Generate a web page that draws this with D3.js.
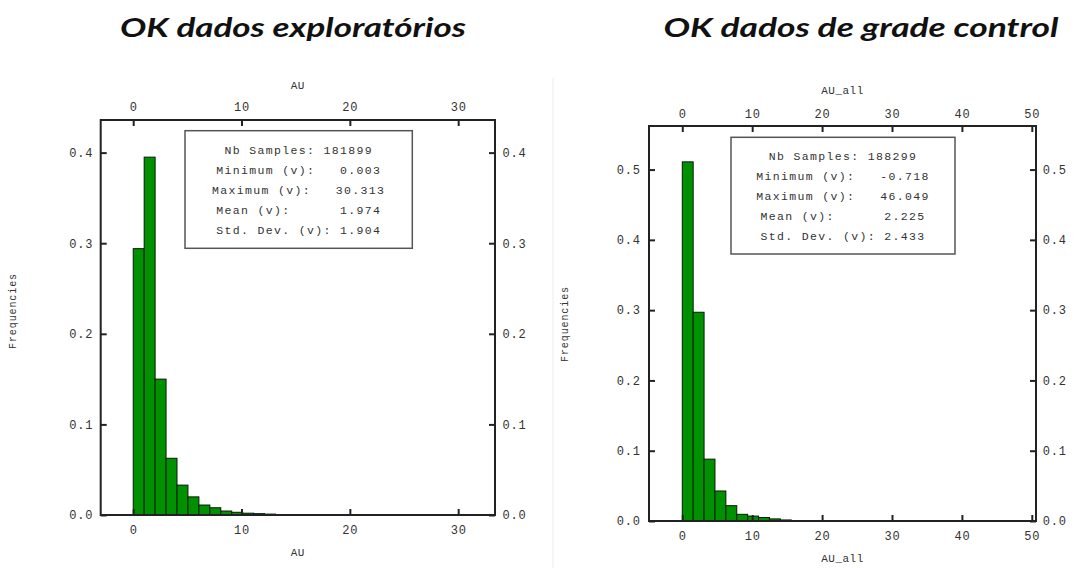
<!DOCTYPE html>
<html>
<head>
<meta charset="utf-8">
<script src="https://cdn.jsdelivr.net/npm/d3@7"></script>
<style>
  html, body { margin: 0; padding: 0; background: #fff; }
  svg { display: block; }
  .mono { font-family: "Liberation Mono", "DejaVu Sans Mono", monospace; }
</style>
</head>
<body>
<svg id="chart" width="1082" height="568"></svg>
<script>
// ---------------- DATA ----------------
const titles = ["OK dados exploratórios", "OK dados de grade control"];
const varNames = ["AU", "AU_all"];

// Left histogram (AU): 30 bins
const leftBinStart = 0.003;
const leftBinWidth = 1.0103;
const leftFreq = [0.294, 0.395, 0.150, 0.0626, 0.033, 0.020, 0.011, 0.008, 0.0044, 0.003,
                  0.002, 0.0015, 0.001, 0, 0, 0, 0, 0, 0, 0,
                  0, 0, 0, 0, 0, 0, 0, 0, 0, 0];

// Right histogram (AU_all): 30 bins
const rightBinStart = 0.0;
const rightBinWidth = 1.559;
const rightFreq = [0.511, 0.297, 0.088, 0.0427, 0.0218, 0.0095, 0.007, 0.005, 0.003, 0.0015,
                   0, 0, 0, 0, 0, 0, 0, 0, 0, 0,
                   0, 0, 0, 0, 0, 0, 0, 0, 0, 0];

const leftXTicks = [0, 10, 20, 30];
const rightXTicks = [0, 10, 20, 30, 40, 50];
const leftYTicks = [0, 0.1, 0.2, 0.3, 0.4];
const rightYTicks = [0, 0.1, 0.2, 0.3, 0.4, 0.5];

const leftStats = ["Nb Samples: 181899", "Minimum (v):   0.003", "Maximum (v):   30.313", "Mean (v):      1.974", "Std. Dev. (v): 1.904"];
const rightStats = ["Nb Samples: 188299", "Minimum (v):   -0.718", "Maximum (v):   46.049", "Mean (v):      2.225", "Std. Dev. (v): 2.433"];

// ---------------- DRAW ----------------
const svg = d3.select("#chart");

// faint separator
svg.append("line").attr("x1", 553).attr("x2", 553).attr("y1", 78).attr("y2", 568)
  .attr("stroke", "#ececec").attr("stroke-width", 1);

function drawPanel(cfg) {
  const g = svg.append("g");
  const x = d3.scaleLinear().domain(cfg.xDomain).range([cfg.l, cfg.r]);
  const y = d3.scaleLinear().domain(cfg.yDomain).range([cfg.b, cfg.t]);

  // title
  svg.append("text")
    .attr("x", cfg.titleX).attr("y", 37)
    .attr("text-anchor", "middle")
    .attr("font-family", "Lato, 'Open Sans', sans-serif")
    .attr("font-weight", "bold").attr("font-style", "italic")
    .attr("font-size", 27)
    .attr("textLength", cfg.titleLen).attr("lengthAdjust", "spacingAndGlyphs")
    .attr("fill", "#111")
    .text(cfg.title);

  // bars
  const bins = cfg.freq.map((f, i) => ({
    x0: cfg.binStart + i * cfg.binWidth,
    x1: cfg.binStart + (i + 1) * cfg.binWidth,
    f
  })).filter(d => d.f > 0);

  g.selectAll("rect.bar").data(bins).enter().append("rect")
    .attr("class", "bar")
    .attr("x", d => x(d.x0))
    .attr("width", d => x(d.x1) - x(d.x0))
    .attr("y", d => y(d.f))
    .attr("height", d => y(0) - y(d.f))
    .attr("fill", "#009100")
    .attr("stroke", "#0a1a0a")
    .attr("stroke-width", 1);

  // axes
  const fmtY = d3.format(".1f");
  const styleAxis = sel => {
    sel.select(".domain").remove();
    sel.selectAll(".tick line").attr("stroke", "#222").attr("stroke-width", 2);
    sel.selectAll(".tick text").attr("class", "mono").attr("font-size", 12)
      .attr("letter-spacing", 0.8).attr("fill", "#333")
      .style("font-family", "'Liberation Mono', 'DejaVu Sans Mono', monospace");
  };
  g.append("g").attr("transform", `translate(0,${cfg.b})`)
    .call(d3.axisBottom(x).tickValues(cfg.xTicks).tickSize(-6).tickPadding(cfg.padB).tickFormat(d3.format("d")))
    .call(styleAxis);
  g.append("g").attr("transform", `translate(0,${cfg.t})`)
    .call(d3.axisTop(x).tickValues(cfg.xTicks).tickSize(-6).tickPadding(cfg.padT).tickFormat(d3.format("d")))
    .call(styleAxis);
  g.append("g").attr("transform", `translate(${cfg.l},0)`)
    .call(d3.axisLeft(y).tickValues(cfg.yTicks).tickSize(-6).tickPadding(cfg.padL).tickFormat(fmtY))
    .call(styleAxis);
  g.append("g").attr("transform", `translate(${cfg.r},0)`)
    .call(d3.axisRight(y).tickValues(cfg.yTicks).tickSize(-6).tickPadding(cfg.padR).tickFormat(fmtY))
    .call(styleAxis);

  // frame
  g.append("rect").attr("x", cfg.l).attr("y", cfg.t)
    .attr("width", cfg.r - cfg.l).attr("height", cfg.b - cfg.t)
    .attr("fill", "none").attr("stroke", "#222").attr("stroke-width", 2);

  // axis titles
  const cx = (cfg.l + cfg.r) / 2;
  const monoText = (sel) => sel.attr("class", "mono").attr("fill", "#333")
      .style("font-family", "'Liberation Mono', 'DejaVu Sans Mono', monospace");
  g.append("text").call(monoText).attr("x", cx).attr("y", cfg.topLabelY)
    .attr("text-anchor", "middle").attr("font-size", 11).attr("letter-spacing", 0.5).text(cfg.varName);
  g.append("text").call(monoText).attr("x", cx).attr("y", cfg.botLabelY)
    .attr("text-anchor", "middle").attr("font-size", 11).attr("letter-spacing", 0.5).text(cfg.varName);
  g.append("text").call(monoText)
    .attr("transform", `translate(${cfg.freqX},${cfg.freqY}) rotate(-90)`)
    .attr("text-anchor", "middle").attr("font-size", 10).attr("letter-spacing", 0.9)
    .text("Frequencies");

  // stats box
  g.append("rect").attr("x", cfg.box[0]).attr("y", cfg.box[1])
    .attr("width", cfg.box[2]).attr("height", cfg.box[3])
    .attr("fill", "#fff").attr("stroke", "#555").attr("stroke-width", 1.5);
  const bcx = cfg.box[0] + cfg.box[2] / 2;
  g.selectAll("text.stat").data(cfg.stats).enter().append("text")
    .attr("class", "stat mono")
    .style("font-family", "'Liberation Mono', 'DejaVu Sans Mono', monospace")
    .style("white-space", "pre")
    .attr("x", bcx)
    .attr("y", (d, i) => cfg.statY0 + i * cfg.statDy)
    .attr("text-anchor", "middle")
    .attr("font-size", 11.5).attr("letter-spacing", 1.35)
    .attr("fill", "#333")
    .text(d => d);
}

drawPanel({
  title: titles[0], titleX: 293, titleLen: 346,
  varName: varNames[0],
  l: 100.7, r: 495, t: 120, b: 515,
  xDomain: [-3.0, 33.4], yDomain: [0, 0.436],
  xTicks: leftXTicks, yTicks: leftYTicks,
  freq: leftFreq, binStart: leftBinStart, binWidth: leftBinWidth,
  padB: 10, padT: 9, padL: 7.5, padR: 7.5,
  topLabelY: 89, botLabelY: 556,
  freqX: 16, freqY: 311,
  box: [185, 130.7, 227.3, 117.6], statY0: 154, statDy: 19.9,
  stats: leftStats
});

drawPanel({
  title: titles[1], titleX: 861, titleLen: 395,
  varName: varNames[1],
  l: 649, r: 1036, t: 126, b: 521,
  xDomain: [-4.76, 50.6], yDomain: [0, 0.562],
  xTicks: rightXTicks, yTicks: rightYTicks,
  freq: rightFreq, binStart: rightBinStart, binWidth: rightBinWidth,
  padB: 10, padT: 8.5, padL: 8.3, padR: 6.7,
  topLabelY: 94, botLabelY: 562,
  freqX: 568, freqY: 324,
  box: [731, 137.3, 224, 116.7], statY0: 160, statDy: 19.9,
  stats: rightStats
});
</script>
</body>
</html>
